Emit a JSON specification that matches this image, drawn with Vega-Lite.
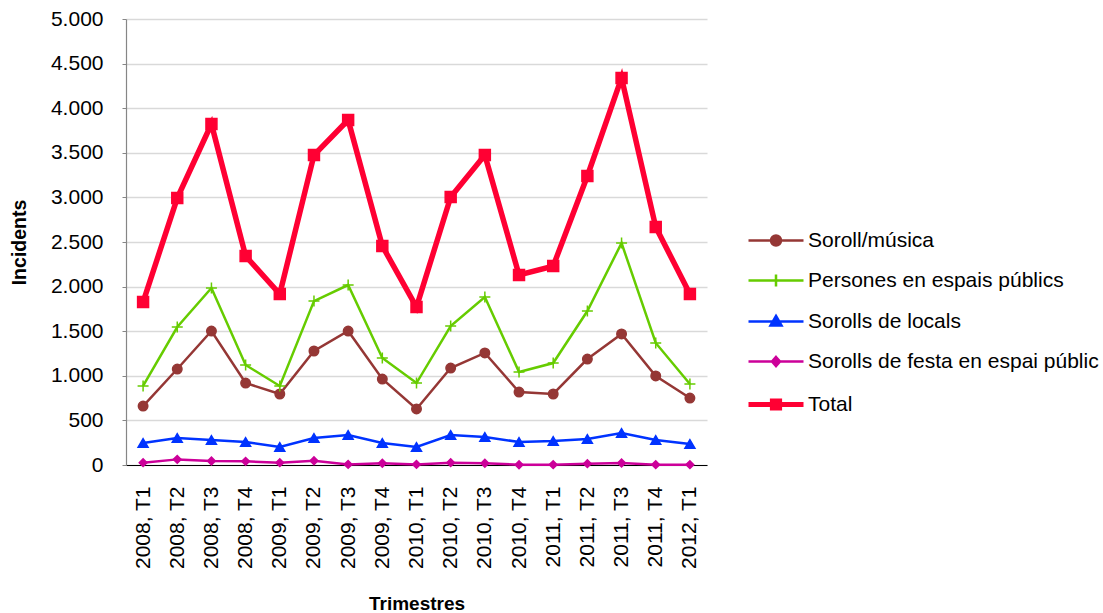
{
  "$schema": "https://vega.github.io/schema/vega-lite/v6.json",
  "autosize": {"type": "none"},
  "width": 581,
  "height": 446,
  "padding": {"left": 126, "top": 19, "right": 396, "bottom": 148},
  "background": "white",
  "config": {
    "font": "Liberation Sans",
    "view": {"stroke": null},
    "axis": {"labelFont": "Liberation Sans", "titleFont": "Liberation Sans", "labelColor": "#000000", "titleColor": "#000000"}
  },
  "data": {
    "values": [
      {"t": "2008, T1", "s": "Soroll/música", "v": 661},
      {"t": "2008, T2", "s": "Soroll/música", "v": 1076},
      {"t": "2008, T3", "s": "Soroll/música", "v": 1502},
      {"t": "2008, T4", "s": "Soroll/música", "v": 919},
      {"t": "2009, T1", "s": "Soroll/música", "v": 796},
      {"t": "2009, T2", "s": "Soroll/música", "v": 1278},
      {"t": "2009, T3", "s": "Soroll/música", "v": 1502},
      {"t": "2009, T4", "s": "Soroll/música", "v": 964},
      {"t": "2010, T1", "s": "Soroll/música", "v": 628},
      {"t": "2010, T2", "s": "Soroll/música", "v": 1087},
      {"t": "2010, T3", "s": "Soroll/música", "v": 1256},
      {"t": "2010, T4", "s": "Soroll/música", "v": 818},
      {"t": "2011, T1", "s": "Soroll/música", "v": 796},
      {"t": "2011, T2", "s": "Soroll/música", "v": 1188},
      {"t": "2011, T3", "s": "Soroll/música", "v": 1469},
      {"t": "2011, T4", "s": "Soroll/música", "v": 998},
      {"t": "2012, T1", "s": "Soroll/música", "v": 751},
      {"t": "2008, T1", "s": "Persones en espais públics", "v": 886},
      {"t": "2008, T2", "s": "Persones en espais públics", "v": 1547},
      {"t": "2008, T3", "s": "Persones en espais públics", "v": 1984},
      {"t": "2008, T4", "s": "Persones en espais públics", "v": 1121},
      {"t": "2009, T1", "s": "Persones en espais públics", "v": 886},
      {"t": "2009, T2", "s": "Persones en espais públics", "v": 1838},
      {"t": "2009, T3", "s": "Persones en espais públics", "v": 2018},
      {"t": "2009, T4", "s": "Persones en espais públics", "v": 1200},
      {"t": "2010, T1", "s": "Persones en espais públics", "v": 919},
      {"t": "2010, T2", "s": "Persones en espais públics", "v": 1558},
      {"t": "2010, T3", "s": "Persones en espais públics", "v": 1883},
      {"t": "2010, T4", "s": "Persones en espais públics", "v": 1043},
      {"t": "2011, T1", "s": "Persones en espais públics", "v": 1143},
      {"t": "2011, T2", "s": "Persones en espais públics", "v": 1726},
      {"t": "2011, T3", "s": "Persones en espais públics", "v": 2488},
      {"t": "2011, T4", "s": "Persones en espais públics", "v": 1368},
      {"t": "2012, T1", "s": "Persones en espais públics", "v": 908},
      {"t": "2008, T1", "s": "Sorolls de locals", "v": 247},
      {"t": "2008, T2", "s": "Sorolls de locals", "v": 303},
      {"t": "2008, T3", "s": "Sorolls de locals", "v": 280},
      {"t": "2008, T4", "s": "Sorolls de locals", "v": 258},
      {"t": "2009, T1", "s": "Sorolls de locals", "v": 202},
      {"t": "2009, T2", "s": "Sorolls de locals", "v": 303},
      {"t": "2009, T3", "s": "Sorolls de locals", "v": 336},
      {"t": "2009, T4", "s": "Sorolls de locals", "v": 247},
      {"t": "2010, T1", "s": "Sorolls de locals", "v": 202},
      {"t": "2010, T2", "s": "Sorolls de locals", "v": 336},
      {"t": "2010, T3", "s": "Sorolls de locals", "v": 314},
      {"t": "2010, T4", "s": "Sorolls de locals", "v": 258},
      {"t": "2011, T1", "s": "Sorolls de locals", "v": 269},
      {"t": "2011, T2", "s": "Sorolls de locals", "v": 291},
      {"t": "2011, T3", "s": "Sorolls de locals", "v": 359},
      {"t": "2011, T4", "s": "Sorolls de locals", "v": 280},
      {"t": "2012, T1", "s": "Sorolls de locals", "v": 235},
      {"t": "2008, T1", "s": "Sorolls de festa en espai públic", "v": 26},
      {"t": "2008, T2", "s": "Sorolls de festa en espai públic", "v": 63},
      {"t": "2008, T3", "s": "Sorolls de festa en espai públic", "v": 45},
      {"t": "2008, T4", "s": "Sorolls de festa en espai públic", "v": 41},
      {"t": "2009, T1", "s": "Sorolls de festa en espai públic", "v": 26},
      {"t": "2009, T2", "s": "Sorolls de festa en espai públic", "v": 48},
      {"t": "2009, T3", "s": "Sorolls de festa en espai públic", "v": 7},
      {"t": "2009, T4", "s": "Sorolls de festa en espai públic", "v": 19},
      {"t": "2010, T1", "s": "Sorolls de festa en espai públic", "v": 7},
      {"t": "2010, T2", "s": "Sorolls de festa en espai públic", "v": 26},
      {"t": "2010, T3", "s": "Sorolls de festa en espai públic", "v": 19},
      {"t": "2010, T4", "s": "Sorolls de festa en espai públic", "v": 3},
      {"t": "2011, T1", "s": "Sorolls de festa en espai públic", "v": 4},
      {"t": "2011, T2", "s": "Sorolls de festa en espai públic", "v": 15},
      {"t": "2011, T3", "s": "Sorolls de festa en espai públic", "v": 22},
      {"t": "2011, T4", "s": "Sorolls de festa en espai públic", "v": 4},
      {"t": "2012, T1", "s": "Sorolls de festa en espai públic", "v": 4},
      {"t": "2008, T1", "s": "Total", "v": 1827},
      {"t": "2008, T2", "s": "Total", "v": 2993},
      {"t": "2008, T3", "s": "Total", "v": 3823},
      {"t": "2008, T4", "s": "Total", "v": 2343},
      {"t": "2009, T1", "s": "Total", "v": 1917},
      {"t": "2009, T2", "s": "Total", "v": 3475},
      {"t": "2009, T3", "s": "Total", "v": 3868},
      {"t": "2009, T4", "s": "Total", "v": 2455},
      {"t": "2010, T1", "s": "Total", "v": 1771},
      {"t": "2010, T2", "s": "Total", "v": 3004},
      {"t": "2010, T3", "s": "Total", "v": 3475},
      {"t": "2010, T4", "s": "Total", "v": 2130},
      {"t": "2011, T1", "s": "Total", "v": 2230},
      {"t": "2011, T2", "s": "Total", "v": 3240},
      {"t": "2011, T3", "s": "Total", "v": 4339},
      {"t": "2011, T4", "s": "Total", "v": 2668},
      {"t": "2012, T1", "s": "Total", "v": 1917}
    ]
  },
  "encoding": {
    "x": {
      "field": "t", "type": "ordinal", "sort": null,
      "axis": {
        "title": "Trimestres", "titleFontSize": 19, "titleFontWeight": "bold",
        "titleBaseline": "alphabetic", "titleY": 144,
        "labelAngle": -90, "labelFontSize": 21, "labelPadding": 21,
        "ticks": false, "domainColor": "#000000", "domainWidth": 1.2, "grid": false
      }
    },
    "y": {
      "field": "v", "type": "quantitative",
      "scale": {"domain": [0, 5000], "nice": false},
      "axis": {
        "title": "Incidents", "titleFontSize": 19.5, "titleFontWeight": "bold",
        "titleBaseline": "alphabetic", "titleX": -101, "titleY": 223, "titleAngle": -90, "titleAlign": "center",
        "values": [0, 500, 1000, 1500, 2000, 2500, 3000, 3500, 4000, 4500, 5000],
        "labelExpr": "replace(format(datum.value, ','), ',', '.')",
        "labelFontSize": 21, "labelPadding": 19,
        "tickSize": 4, "tickColor": "#868686",
        "domainColor": "#868686", "domainWidth": 1.2,
        "gridColor": "#d9d9d9", "gridWidth": 1.5
      }
    }
  },
  "layer": [
    {
      "mark": {"type": "line"},
      "encoding": {
        "color": {
          "field": "s", "type": "nominal",
          "scale": {
            "domain": ["Soroll/música", "Persones en espais públics", "Sorolls de locals", "Sorolls de festa en espai públic", "Total"],
            "range": ["#953735", "#66CC00", "#0033FF", "#CC0099", "#FF0033"]
          },
          "legend": {
            "title": null, "orient": "none", "legendX": 639.5, "legendY": 211,
            "padding": 0, "labelFontSize": 21, "labelColor": "#000000", "labelFont": "Liberation Sans", "labelLimit": 0,
            "symbolSize": 400, "labelOffset": 21.5, "rowPadding": 18, "symbolStrokeWidth": 2.5,
            "encode": {
              "symbols": {
                "update": {
                  "shape": {"signal": "datum.value === 'Soroll/música' ? 'M-2.75,0H2.75M0.5,0C0.5,0.276 0.276,0.5 0,0.5C-0.276,0.5 -0.5,0.276 -0.5,0C-0.5,-0.276 -0.276,-0.5 0,-0.5C0.276,-0.5 0.5,-0.276 0.5,0Z' : datum.value === 'Persones en espais públics' ? 'M-2.75,0H2.75M0,-0.6V0.6' : datum.value === 'Sorolls de locals' ? 'M-2.75,0H2.75M0,-0.55L0.55,0.4L-0.55,0.4Z' : datum.value === 'Total' ? 'M-2.75,0H2.75M-0.36,-0.36H0.36V0.36H-0.36Z' : 'M-2.75,0H2.75M0,-0.45L0.4,0L0,0.45L-0.4,0Z'"},
                  "fill": {"signal": "scale('color', datum.value)"},
                  "strokeWidth": {"signal": "datum.value === 'Total' ? 5 : 2.5"}
                }
              }
            }
          }
        },
        "strokeWidth": {"condition": {"test": "datum.s === 'Total'", "value": 5.5}, "value": 2.5}
      }
    },
    {
      "mark": {"type": "point", "filled": true, "opacity": 1, "strokeWidth": 1.5},
      "encoding": {
        "fill": {
          "condition": [
            {"test": "datum.s === 'Soroll/música'", "value": "#953735"},
            {"test": "datum.s === 'Persones en espais públics'", "value": "#66CC00"},
            {"test": "datum.s === 'Sorolls de locals'", "value": "#0033FF"},
            {"test": "datum.s === 'Sorolls de festa en espai públic'", "value": "#CC0099"}
          ],
          "value": "#FF0033"
        },
        "stroke": {
          "condition": [
            {"test": "datum.s === 'Soroll/música'", "value": "#953735"},
            {"test": "datum.s === 'Persones en espais públics'", "value": "#66CC00"},
            {"test": "datum.s === 'Sorolls de locals'", "value": "#0033FF"},
            {"test": "datum.s === 'Sorolls de festa en espai públic'", "value": "#CC0099"}
          ],
          "value": "#FF0033"
        },
        "shape": {
          "condition": [
            {"test": "datum.s === 'Soroll/música'", "value": "circle"},
            {"test": "datum.s === 'Persones en espais públics'", "value": "M-1,0H1M0,-1V1"},
            {"test": "datum.s === 'Sorolls de locals'", "value": "triangle-up"},
            {"test": "datum.s === 'Sorolls de festa en espai públic'", "value": "diamond"}
          ],
          "value": "square"
        },
        "size": {
          "condition": [
            {"test": "datum.s === 'Soroll/música'", "value": 90},
            {"test": "datum.s === 'Persones en espais públics'", "value": 121},
            {"test": "datum.s === 'Sorolls de locals'", "value": 100},
            {"test": "datum.s === 'Sorolls de festa en espai públic'", "value": 60}
          ],
          "value": 120
        }
      }
    }
  ]
}
